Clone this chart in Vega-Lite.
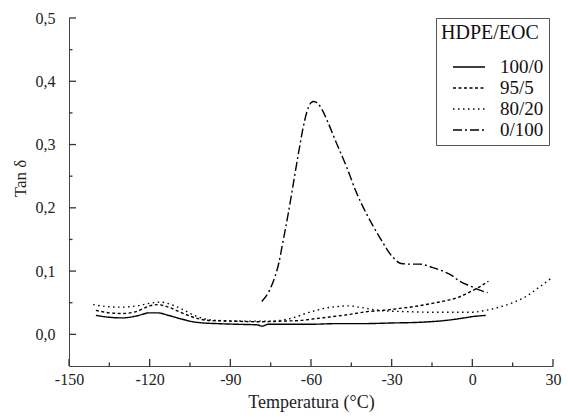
{
  "$schema": "https://vega.github.io/schema/vega-lite/v6.json",
  "width": 484,
  "height": 348,
  "autosize": {"type": "none"},
  "padding": {"left": 69, "top": 18, "right": 15, "bottom": 53},
  "background": "white",
  "config": {
    "view": {"stroke": null},
    "font": "Liberation Serif",
    "axis": {
      "domainColor": "#444",
      "labelColor": "#222",
      "titleColor": "#222",
      "labelFont": "Liberation Serif",
      "titleFont": "Liberation Serif",
      "labelFontSize": 16,
      "titleFontSize": 18,
      "titleFontWeight": "normal",
      "grid": false
    }
  },
  "datasets": {
    "tickmarks": [
      {"axis": "x", "kind": "major", "t": -150},
      {"axis": "x", "kind": "major", "t": -120},
      {"axis": "x", "kind": "major", "t": -90},
      {"axis": "x", "kind": "major", "t": -60},
      {"axis": "x", "kind": "major", "t": -30},
      {"axis": "x", "kind": "major", "t": 0},
      {"axis": "x", "kind": "major", "t": 30},
      {"axis": "x", "kind": "minor", "t": -135},
      {"axis": "x", "kind": "minor", "t": -105},
      {"axis": "x", "kind": "minor", "t": -75},
      {"axis": "x", "kind": "minor", "t": -45},
      {"axis": "x", "kind": "minor", "t": -15},
      {"axis": "x", "kind": "minor", "t": 15},
      {"axis": "y", "kind": "major", "t": 0},
      {"axis": "y", "kind": "major", "t": 0.1},
      {"axis": "y", "kind": "major", "t": 0.2},
      {"axis": "y", "kind": "major", "t": 0.3},
      {"axis": "y", "kind": "major", "t": 0.4},
      {"axis": "y", "kind": "major", "t": 0.5},
      {"axis": "y", "kind": "minor", "t": 0.05},
      {"axis": "y", "kind": "minor", "t": 0.15},
      {"axis": "y", "kind": "minor", "t": 0.25},
      {"axis": "y", "kind": "minor", "t": 0.35},
      {"axis": "y", "kind": "minor", "t": 0.45}
    ],
    "curves": [
      {"s": "100/0", "T": -140, "v": 0.030},
      {"s": "100/0", "T": -135, "v": 0.027},
      {"s": "100/0", "T": -130, "v": 0.026},
      {"s": "100/0", "T": -125, "v": 0.029},
      {"s": "100/0", "T": -120, "v": 0.034},
      {"s": "100/0", "T": -117, "v": 0.034},
      {"s": "100/0", "T": -113, "v": 0.030},
      {"s": "100/0", "T": -108, "v": 0.024},
      {"s": "100/0", "T": -104, "v": 0.020},
      {"s": "100/0", "T": -100, "v": 0.018},
      {"s": "100/0", "T": -95, "v": 0.017},
      {"s": "100/0", "T": -88, "v": 0.016},
      {"s": "100/0", "T": -80, "v": 0.015},
      {"s": "100/0", "T": -78, "v": 0.013},
      {"s": "100/0", "T": -76, "v": 0.016},
      {"s": "100/0", "T": -70, "v": 0.016},
      {"s": "100/0", "T": -60, "v": 0.016},
      {"s": "100/0", "T": -50, "v": 0.017},
      {"s": "100/0", "T": -40, "v": 0.017},
      {"s": "100/0", "T": -30, "v": 0.018},
      {"s": "100/0", "T": -20, "v": 0.019},
      {"s": "100/0", "T": -10, "v": 0.022},
      {"s": "100/0", "T": -3, "v": 0.026},
      {"s": "100/0", "T": 0, "v": 0.028},
      {"s": "100/0", "T": 5, "v": 0.030},

      {"s": "95/5", "T": -140, "v": 0.038},
      {"s": "95/5", "T": -135, "v": 0.034},
      {"s": "95/5", "T": -130, "v": 0.033},
      {"s": "95/5", "T": -125, "v": 0.036},
      {"s": "95/5", "T": -120, "v": 0.045},
      {"s": "95/5", "T": -117, "v": 0.047},
      {"s": "95/5", "T": -113, "v": 0.043},
      {"s": "95/5", "T": -108, "v": 0.034},
      {"s": "95/5", "T": -103, "v": 0.026},
      {"s": "95/5", "T": -98, "v": 0.022},
      {"s": "95/5", "T": -90, "v": 0.021},
      {"s": "95/5", "T": -80, "v": 0.020},
      {"s": "95/5", "T": -70, "v": 0.021},
      {"s": "95/5", "T": -64, "v": 0.022},
      {"s": "95/5", "T": -58, "v": 0.025},
      {"s": "95/5", "T": -52, "v": 0.028},
      {"s": "95/5", "T": -45, "v": 0.032},
      {"s": "95/5", "T": -39, "v": 0.036},
      {"s": "95/5", "T": -33, "v": 0.038},
      {"s": "95/5", "T": -27, "v": 0.041},
      {"s": "95/5", "T": -20, "v": 0.045},
      {"s": "95/5", "T": -15, "v": 0.049},
      {"s": "95/5", "T": -10, "v": 0.053},
      {"s": "95/5", "T": -5, "v": 0.059},
      {"s": "95/5", "T": 0, "v": 0.069},
      {"s": "95/5", "T": 3, "v": 0.076},
      {"s": "95/5", "T": 6, "v": 0.084},

      {"s": "80/20", "T": -141, "v": 0.047},
      {"s": "80/20", "T": -136, "v": 0.044},
      {"s": "80/20", "T": -130, "v": 0.043},
      {"s": "80/20", "T": -125, "v": 0.045},
      {"s": "80/20", "T": -120, "v": 0.049},
      {"s": "80/20", "T": -116, "v": 0.051},
      {"s": "80/20", "T": -112, "v": 0.047},
      {"s": "80/20", "T": -108, "v": 0.040},
      {"s": "80/20", "T": -104, "v": 0.031},
      {"s": "80/20", "T": -100, "v": 0.025},
      {"s": "80/20", "T": -95, "v": 0.022},
      {"s": "80/20", "T": -85, "v": 0.021},
      {"s": "80/20", "T": -75, "v": 0.021},
      {"s": "80/20", "T": -70, "v": 0.023},
      {"s": "80/20", "T": -66, "v": 0.027},
      {"s": "80/20", "T": -62, "v": 0.033},
      {"s": "80/20", "T": -58, "v": 0.038},
      {"s": "80/20", "T": -54, "v": 0.042},
      {"s": "80/20", "T": -50, "v": 0.044},
      {"s": "80/20", "T": -46, "v": 0.045},
      {"s": "80/20", "T": -42, "v": 0.043},
      {"s": "80/20", "T": -38, "v": 0.040},
      {"s": "80/20", "T": -32, "v": 0.037},
      {"s": "80/20", "T": -25, "v": 0.036},
      {"s": "80/20", "T": -15, "v": 0.035},
      {"s": "80/20", "T": -5, "v": 0.035},
      {"s": "80/20", "T": 0, "v": 0.035},
      {"s": "80/20", "T": 5, "v": 0.038},
      {"s": "80/20", "T": 10, "v": 0.043},
      {"s": "80/20", "T": 15, "v": 0.050},
      {"s": "80/20", "T": 20, "v": 0.060},
      {"s": "80/20", "T": 25, "v": 0.075},
      {"s": "80/20", "T": 30, "v": 0.091},

      {"s": "0/100", "T": -78.3, "v": 0.052},
      {"s": "0/100", "T": -75.4, "v": 0.070},
      {"s": "0/100", "T": -73.5, "v": 0.090},
      {"s": "0/100", "T": -72, "v": 0.112},
      {"s": "0/100", "T": -70.5, "v": 0.145},
      {"s": "0/100", "T": -68.5, "v": 0.190},
      {"s": "0/100", "T": -66.5, "v": 0.240},
      {"s": "0/100", "T": -64.5, "v": 0.290},
      {"s": "0/100", "T": -63, "v": 0.325},
      {"s": "0/100", "T": -61.5, "v": 0.352},
      {"s": "0/100", "T": -60, "v": 0.366},
      {"s": "0/100", "T": -59, "v": 0.368},
      {"s": "0/100", "T": -57.5, "v": 0.365},
      {"s": "0/100", "T": -55.5, "v": 0.352},
      {"s": "0/100", "T": -54, "v": 0.338},
      {"s": "0/100", "T": -50.5, "v": 0.302},
      {"s": "0/100", "T": -46.7, "v": 0.264},
      {"s": "0/100", "T": -43, "v": 0.223},
      {"s": "0/100", "T": -39.3, "v": 0.190},
      {"s": "0/100", "T": -34.4, "v": 0.153},
      {"s": "0/100", "T": -29.6, "v": 0.122},
      {"s": "0/100", "T": -26.5, "v": 0.112},
      {"s": "0/100", "T": -23, "v": 0.111},
      {"s": "0/100", "T": -19.6, "v": 0.111},
      {"s": "0/100", "T": -15, "v": 0.106},
      {"s": "0/100", "T": -11, "v": 0.100},
      {"s": "0/100", "T": -8, "v": 0.094},
      {"s": "0/100", "T": -4.7, "v": 0.084},
      {"s": "0/100", "T": 0, "v": 0.075},
      {"s": "0/100", "T": 2, "v": 0.071},
      {"s": "0/100", "T": 5.7, "v": 0.066}
    ]
  },
  "resolve": {"axis": {"x": "independent", "y": "independent"}},
  "layer": [
    {
      "data": {"name": "curves"},
      "mark": {"type": "line", "color": "black", "strokeWidth": 1.4, "interpolate": "monotone", "clip": true},
      "encoding": {
        "x": {
          "field": "T",
          "type": "quantitative",
          "scale": {"domain": [-150, 30], "nice": false, "zero": false},
          "axis": {
            "orient": "bottom",
            "title": "Temperatura (°C)",
            "labelFont": "Liberation Serif",
            "titleFont": "Liberation Serif",
            "values": [-150, -120, -90, -60, -30, 0, 30],
            "labelExpr": "toString(datum.value)",
            "ticks": false,
            "tickSize": 0,
            "labelPadding": 5,
            "labelFlush": false,
            "titlePadding": 6
          }
        },
        "y": {
          "field": "v",
          "type": "quantitative",
          "scale": {"domain": [-0.05, 0.5], "nice": false, "zero": false},
          "axis": {
            "orient": "left",
            "title": "Tan δ",
            "labelFont": "Liberation Serif",
            "titleFont": "Liberation Serif",
            "values": [0, 0.1, 0.2, 0.3, 0.4, 0.5],
            "labelExpr": "replace(format(datum.value, '.1f'), '.', ',')",
            "ticks": false,
            "tickSize": 0,
            "labelPadding": 14,
            "labelFlush": false,
            "titleFontSize": 17,
            "titleX": -40,
            "titleY": 160,
            "titleAngle": -90,
            "titleAlign": "center",
            "titleBaseline": "bottom"
          }
        },
        "strokeDash": {
          "field": "s",
          "type": "nominal",
          "scale": {
            "domain": ["100/0", "95/5", "80/20", "0/100"],
            "range": [[1, 0], [3, 2.5], [1.5, 3.5], [9, 3, 2, 3]]
          },
          "legend": {
            "title": "HDPE/EOC",
            "orient": "none",
            "legendX": 367,
            "legendY": 0,
            "titleFont": "Liberation Serif",
            "titleFontSize": 20,
            "titleFontWeight": "normal",
            "titleColor": "#111",
            "titlePadding": 13,
            "labelFont": "Liberation Serif",
            "labelFontSize": 19,
            "labelColor": "#111",
            "labelOffset": 37,
            "symbolType": "M0.1,0H3.3",
            "symbolSize": 400,
            "symbolStrokeWidth": 1.4,
            "symbolStrokeColor": "black",
            "symbolFillColor": "transparent",
            "strokeColor": "#555",
            "padding": 5,
            "rowPadding": 0
          }
        }
      }
    },
    {
      "data": {"name": "tickmarks"},
      "transform": [{"filter": "datum.axis === 'x' && datum.kind === 'major'"}],
      "mark": {"type": "rule", "color": "#333", "strokeWidth": 1.3},
      "encoding": {
        "x": {"field": "t", "type": "quantitative", "axis": null},
        "y": {"datum": -0.05, "type": "quantitative", "axis": null},
        "y2": {"datum": -0.039}
      }
    },
    {
      "data": {"name": "tickmarks"},
      "transform": [{"filter": "datum.axis === 'x' && datum.kind === 'minor'"}],
      "mark": {"type": "rule", "color": "#333", "strokeWidth": 1.3},
      "encoding": {
        "x": {"field": "t", "type": "quantitative", "axis": null},
        "y": {"datum": -0.05, "type": "quantitative", "axis": null},
        "y2": {"datum": -0.0445}
      }
    },
    {
      "data": {"name": "tickmarks"},
      "transform": [{"filter": "datum.axis === 'y' && datum.kind === 'major'"}],
      "mark": {"type": "rule", "color": "#333", "strokeWidth": 1.3},
      "encoding": {
        "y": {"field": "t", "type": "quantitative", "axis": null},
        "x": {"datum": -150, "type": "quantitative", "axis": null},
        "x2": {"datum": -147.4}
      }
    },
    {
      "data": {"name": "tickmarks"},
      "transform": [{"filter": "datum.axis === 'y' && datum.kind === 'minor'"}],
      "mark": {"type": "rule", "color": "#333", "strokeWidth": 1.3},
      "encoding": {
        "y": {"field": "t", "type": "quantitative", "axis": null},
        "x": {"datum": -150, "type": "quantitative", "axis": null},
        "x2": {"datum": -148.7}
      }
    }
  ]
}
